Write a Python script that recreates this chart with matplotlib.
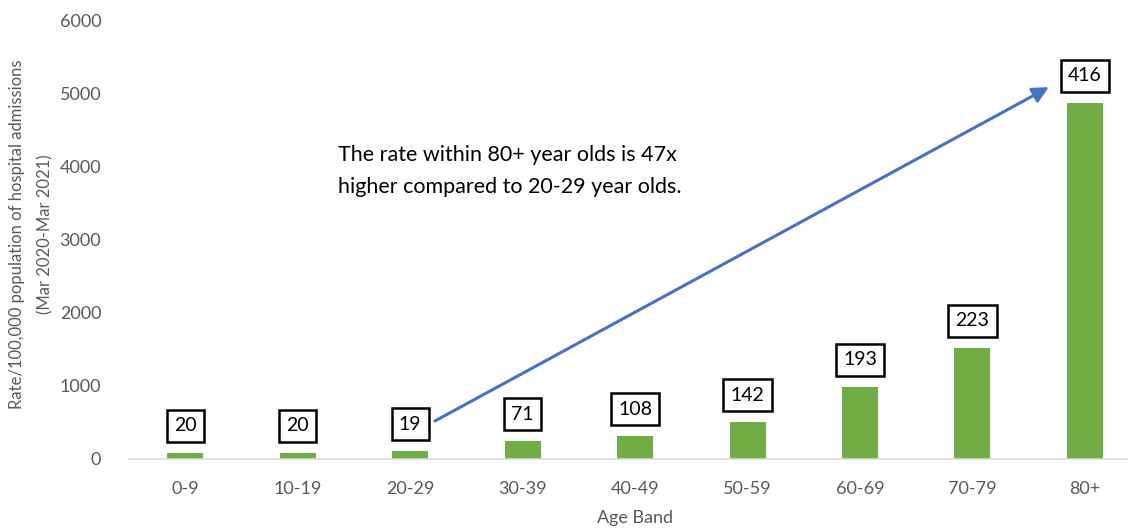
import matplotlib.pyplot as plt

plt.rcParams['font.family'] = ['Lato', 'DejaVu Sans']

# data
age_bands = ['0-9', '10-19', '20-29', '30-39', '40-49', '50-59', '60-69', '70-79', '80+']
rates = [86, 86, 105, 242, 314, 505, 988, 1520, 4868]
counts = [20, 20, 19, 71, 108, 142, 193, 223, 416]
y_ticks = [0, 1000, 2000, 3000, 4000, 5000, 6000]

grey = '#595959'
bar_green = '#70AD47'
arrow_blue = '#4472C4'

fig = plt.figure(figsize=(11.28, 5.31), dpi=100)
ax = fig.add_axes([0.1144, 0.1356, 0.8972, 0.8267])

x = range(len(age_bands))
ax.bar(x, rates, width=0.32, color=bar_green, zorder=2)

# boxed count labels above each bar
for i, (r, c) in enumerate(zip(rates, counts)):
    ax.annotate(str(c), (i, r), xytext=(0, 27), textcoords='offset pixels',
                ha='center', va='center', fontsize=14, color='black',
                bbox=dict(boxstyle='square,pad=0.38', fc='white', ec='black', lw=1.8))

# arrow from 20-29 up to 80+
ax.annotate('', xy=(7.68, 5082), xytext=(2.22, 519),
            arrowprops=dict(arrowstyle='-|>', color=arrow_blue, lw=2.2,
                            mutation_scale=24, shrinkA=0, shrinkB=0))

ax.text(1.36, 3934, 'The rate within 80+ year olds is 47x\nhigher compared to 20-29 year olds.',
        ha='left', va='center', fontsize=15.5, color='black', linespacing=1.75)

ax.set_xlim(-0.5, len(age_bands) - 0.5)
ax.set_ylim(0, 6000)
ax.set_yticks(y_ticks)
ax.set_xticks(list(x))
ax.set_xticklabels(age_bands)
ax.tick_params(axis='both', length=0, labelsize=13, labelcolor=grey)
ax.tick_params(axis='y', pad=20)
ax.tick_params(axis='x', pad=16)

for s in ['top', 'right', 'left']:
    ax.spines[s].set_visible(False)
ax.spines['bottom'].set_color('#D9D9D9')
ax.spines['bottom'].set_linewidth(1.2)

ax.set_xlabel('Age Band', fontsize=13, color=grey, labelpad=9)
ax.set_ylabel('Rate/100,000 population of hospital admissions\n(Mar 2020-Mar 2021)',
              fontsize=12, color=grey, linespacing=1.9)
ax.yaxis.set_label_coords(-0.075, 0.5125)

fig.savefig('out.png', dpi=100)
